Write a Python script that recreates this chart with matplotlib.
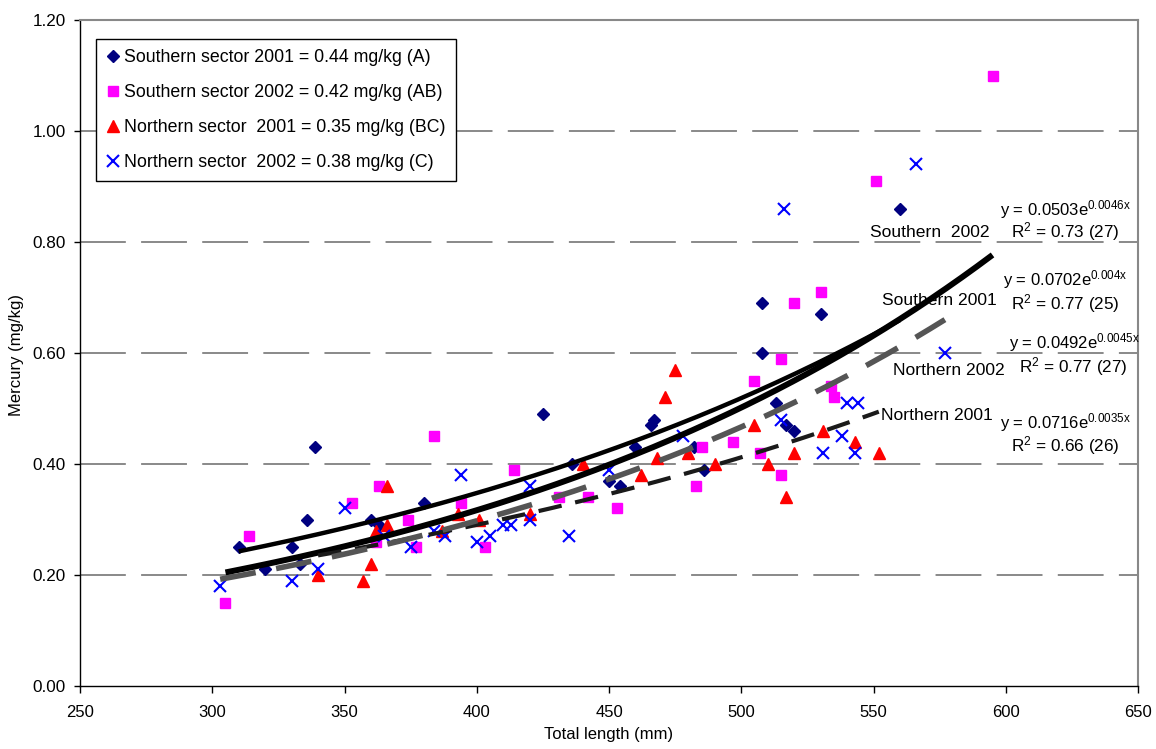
import numpy as np
import matplotlib
matplotlib.use('Agg')
import matplotlib.pyplot as plt

plt.rcParams['font.family'] = ['Liberation Sans', 'DejaVu Sans']
plt.rcParams['mathtext.fontset'] = 'custom'
plt.rcParams['mathtext.rm'] = 'Liberation Sans'
plt.rcParams['mathtext.default'] = 'regular'
plt.rcParams['lines.scale_dashes'] = False

# data: total length (mm) and mercury (mg/kg)
s01_x = [310, 320, 330, 333, 336, 339, 360, 363, 380, 425, 436, 450, 454, 460, 466, 467,
         482, 486, 508, 508, 513, 517, 520, 530, 560]
s01_y = [0.25, 0.21, 0.25, 0.22, 0.30, 0.43, 0.30, 0.29, 0.33, 0.49, 0.40, 0.37, 0.36, 0.43, 0.47, 0.48,
         0.43, 0.39, 0.69, 0.60, 0.51, 0.47, 0.46, 0.67, 0.86]

s02_x = [305, 314, 353, 362, 363, 374, 377, 384, 394, 403, 414, 431, 442, 453, 483, 485,
         497, 505, 507, 515, 515, 520, 530, 534, 535, 551, 595]
s02_y = [0.15, 0.27, 0.33, 0.26, 0.36, 0.30, 0.25, 0.45, 0.33, 0.25, 0.39, 0.34, 0.34, 0.32, 0.36, 0.43,
         0.44, 0.55, 0.42, 0.59, 0.38, 0.69, 0.71, 0.54, 0.52, 0.91, 1.10]

n01_x = [340, 357, 360, 362, 366, 366, 387, 393, 401, 420, 440, 462, 468, 471, 475, 480,
         490, 505, 510, 517, 520, 531, 543, 552]
n01_y = [0.20, 0.19, 0.22, 0.28, 0.36, 0.29, 0.28, 0.31, 0.30, 0.31, 0.40, 0.38, 0.41, 0.52, 0.57, 0.42,
         0.40, 0.47, 0.40, 0.34, 0.42, 0.46, 0.44, 0.42]

n02_x = [303, 330, 340, 350, 365, 375, 384, 388, 394, 400, 405, 410, 413, 420, 420, 435,
         450, 478, 515, 516, 531, 538, 540, 543, 544, 566, 577]
n02_y = [0.18, 0.19, 0.21, 0.32, 0.27, 0.25, 0.28, 0.27, 0.38, 0.26, 0.27, 0.29, 0.29, 0.36, 0.30, 0.27,
         0.39, 0.45, 0.48, 0.86, 0.42, 0.45, 0.51, 0.42, 0.51, 0.94, 0.60]

legend_labels = ['Southern sector 2001 = 0.44 mg/kg (A)',
                 'Southern sector 2002 = 0.42 mg/kg (AB)',
                 'Northern sector  2001 = 0.35 mg/kg (BC)',
                 'Northern sector  2002 = 0.38 mg/kg (C)']

# exponential trend lines y = a*exp(b*x), order: S2001, S2002, N2001, N2002
trend_a = [0.0702, 0.0503, 0.0716, 0.0492]
trend_b = [0.004, 0.0046, 0.0035, 0.0045]
trend_from = [310, 305, 340, 303]
trend_to = [560, 595, 552, 577]
trend_names = ['Southern 2001', 'Southern  2002', 'Northern 2001', 'Northern 2002']
trend_eq = ['y = 0.0702e$^{0.004x}$', 'y = 0.0503e$^{0.0046x}$',
            'y = 0.0716e$^{0.0035x}$', 'y = 0.0492e$^{0.0045x}$']
trend_r2 = ['R$^2$ = 0.77 (25)', 'R$^2$ = 0.73 (27)', 'R$^2$ = 0.66 (26)', 'R$^2$ = 0.77 (27)']

fig = plt.figure(figsize=(11.56, 7.49), dpi=100)
ax = fig.add_axes([80 / 1156, 63 / 749, 1058 / 1156, 666 / 749])

ax.set_xlim(250, 650)
ax.set_ylim(0, 1.2)
ax.set_xticks(np.arange(250, 651, 50))
ax.set_yticks(np.arange(0, 1.21, 0.2))
ax.set_yticklabels(['%.2f' % v for v in np.arange(0, 1.21, 0.2)])

for v in [0.2, 0.4, 0.6, 0.8, 1.0]:
    ax.axhline(v, color='#808080', lw=1.3, dashes=(33, 11), zorder=0)

ax.plot(s01_x, s01_y, ls='none', marker='D', ms=6, color='#000080', label=legend_labels[0], zorder=2)
ax.plot(s02_x, s02_y, ls='none', marker='s', ms=7.8, color='#FF00FF', label=legend_labels[1], zorder=2)
ax.plot(n01_x, n01_y, ls='none', marker='^', ms=9, color='#FF0000', label=legend_labels[2], zorder=2)
ax.plot(n02_x, n02_y, ls='none', marker='x', ms=8, mew=1.5, color='#0000FF', label=legend_labels[3], zorder=2)

# trend lines
styles = [dict(color='black', lw=3.2),
          dict(color='black', lw=4.3),
          dict(color='#1a1a1a', lw=3.0, dashes=(17, 10)),
          dict(color='#555555', lw=4.0, dashes=(26, 15))]
for a, b, x0, x1, st in zip(trend_a, trend_b, trend_from, trend_to, styles):
    xs = np.linspace(x0, x1, 200)
    ax.plot(xs, a * np.exp(b * xs), solid_capstyle='butt', dash_capstyle='butt', zorder=3, **st)

# trend line names and equations
name_pos = [(553.2, 0.695), (548.7, 0.818), (552.8, 0.488), (557.4, 0.568)]
eq_pos = [(622.4, 0.732), (622.4, 0.859), (622.4, 0.474), (625.8, 0.618)]
r2_pos = [(622.4, 0.690), (622.4, 0.818), (622.4, 0.434), (625.6, 0.575)]
for i in range(4):
    ax.text(name_pos[i][0], name_pos[i][1], trend_names[i], fontsize=12.6, ha='left', va='center')
    ax.text(eq_pos[i][0], eq_pos[i][1], trend_eq[i], fontsize=12, ha='center', va='center', clip_on=False)
    ax.text(r2_pos[i][0], r2_pos[i][1], trend_r2[i], fontsize=12.3, ha='center', va='center', clip_on=False)

for side in ['top', 'right']:
    ax.spines[side].set_color('#888888')
    ax.spines[side].set_linewidth(1.5)
for side in ['left', 'bottom']:
    ax.spines[side].set_color('black')
    ax.spines[side].set_linewidth(1.0)

ax.tick_params(axis='x', direction='out', length=5, width=1, labelsize=12, pad=9)
ax.tick_params(axis='y', direction='out', length=4, width=1, labelsize=12.3, pad=6)

leg = ax.legend(loc='upper left', bbox_to_anchor=(0.0151, 0.9715), borderaxespad=0,
                fontsize=12.8, frameon=True, fancybox=False, framealpha=1, edgecolor='black',
                handlelength=0.8, handletextpad=0.25, labelspacing=1.02, borderpad=0.55)
leg.get_frame().set_linewidth(1.0)

fig.text(17 / 1156, 1 - 355 / 749, 'Mercury (mg/kg)', rotation=90, ha='center', va='center', fontsize=12)
fig.text(609 / 1156, 1 - 735 / 749, 'Total length (mm)', ha='center', va='center', fontsize=12)

fig.savefig('out.png', dpi=100)
